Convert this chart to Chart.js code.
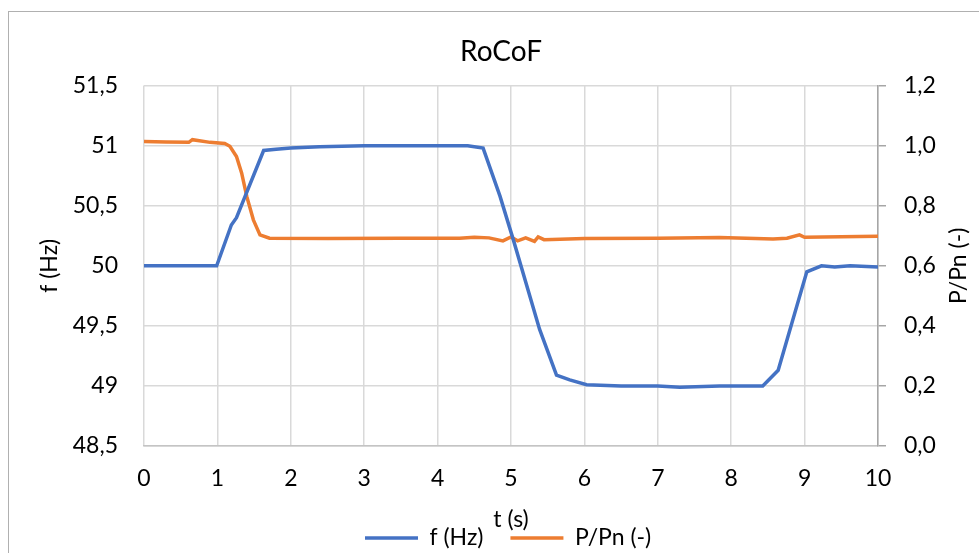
<!DOCTYPE html>
<html>
<head>
<meta charset="utf-8">
<script src="https://cdn.jsdelivr.net/npm/chart.js@4.4.1/dist/chart.umd.min.js"></script>
<style>
  html, body { margin: 0; padding: 0; background: #fff; }
  #wrap { position: relative; width: 979px; height: 553px; overflow: hidden; }
  #frame { position: absolute; left: 8px; top: 11px; width: 1200px; height: 800px;
           border-left: 1px solid #b0b0b0; border-top: 1px solid #b0b0b0; pointer-events: none; }
  canvas { position: absolute; left: 0; top: 0; }
</style>
</head>
<body>
<div id="wrap">
  <canvas id="c" width="979" height="553"></canvas>
  <div id="frame"></div>
</div>
<script>
// ---- data ----
const chartTitle = "RoCoF";
const xTitle = "t (s)";
const leftTitle = "f (Hz)";
const rightTitle = "P/Pn (-)";
const seriesNames = ["f (Hz)", "P/Pn (-)"];

const fTime  = [0, 0.5, 0.99, 1.19, 1.26, 1.63, 1.8, 2.0, 2.39, 3.0, 3.5, 4.0, 4.41, 4.62, 4.85, 5.03, 5.39, 5.62, 5.80, 6.03, 6.5, 7.0, 7.3, 7.84, 8.43, 8.64, 8.82, 9.03, 9.23, 9.41, 9.62, 10.0];
const fValue = [50.0, 50.0, 50.0, 50.34, 50.40, 50.96, 50.97, 50.98, 50.99, 51.0, 51.0, 51.0, 51.0, 50.98, 50.58, 50.22, 49.47, 49.09, 49.05, 49.01, 49.0, 49.0, 48.99, 49.0, 49.0, 49.13, 49.51, 49.95, 50.0, 49.99, 50.0, 49.99];

const pTime  = [0, 0.3, 0.61, 0.66, 0.9, 1.1, 1.17, 1.26, 1.33, 1.40, 1.49, 1.58, 1.71, 2.5, 3.5, 4.3, 4.5, 4.7, 4.89, 5.0, 5.09, 5.2, 5.32, 5.37, 5.45, 6.0, 7.0, 7.84, 8.57, 8.76, 8.93, 9.0, 10.0];
const pValue = [1.014, 1.012, 1.011, 1.02, 1.011, 1.007, 0.998, 0.964, 0.909, 0.831, 0.753, 0.703, 0.692, 0.691, 0.692, 0.692, 0.695, 0.693, 0.683, 0.696, 0.683, 0.693, 0.681, 0.696, 0.687, 0.691, 0.692, 0.694, 0.689, 0.692, 0.703, 0.695, 0.698];

const xTickLabels = ["0","1","2","3","4","5","6","7","8","9","10"];
const leftTickLabels = ["48,5","49","49,5","50","50,5","51","51,5"];
const rightTickLabels = ["0,0","0,2","0,4","0,6","0,8","1,0","1,2"];

// ---- chart ----
const FONT = "Lato";
const txt = "#000000";

const fPoints = fTime.map((t, i) => ({ x: t, y: fValue[i] }));
const pPoints = pTime.map((t, i) => ({ x: t, y: pValue[i] }));

const PLOT_LEFT = 144, PLOT_RIGHT = 878, PLOT_BOTTOM = 446, H = 553, W = 979;
const PAD_LEFT = 23, PAD_RIGHT = 0;

const legendShift = {
  id: 'legendShift',
  afterLayout(chart) {
    const L = chart.legend;
    if (!L) return;
    const pad = L.options.labels.padding;
    const size = L.options.labels.font.size;
    const start = (L.left + pad + L.right - L.lineWidths[0]) / 2;
    const dx = 365 - start;
    const dy = 538 - (L.top + pad + size / 2);
    L.left += dx; L.right += dx; L.top += dy; L.bottom += dy;
  }
};

const rightTitlePlugin = {
  id: 'rightTitle',
  afterDraw(chart) {
    const ctx = chart.ctx;
    ctx.save();
    ctx.font = "23px " + FONT;
    ctx.fillStyle = txt;
    ctx.textAlign = "center";
    ctx.textBaseline = "middle";
    const s = chart.scales.y1;
    ctx.translate(959, (s.top + s.bottom) / 2);
    ctx.rotate(-Math.PI / 2);
    ctx.fillText(rightTitle, 0, 0);
    ctx.restore();
  }
};

new Chart(document.getElementById('c'), {
  type: 'line',
  data: {
    datasets: [
      { label: seriesNames[0], data: fPoints, yAxisID: 'y', borderColor: '#4472C4', backgroundColor: '#4472C4',
        borderWidth: 3.5, pointRadius: 0, tension: 0, order: 1 },
      { label: seriesNames[1], data: pPoints, yAxisID: 'y1', borderColor: '#ED7D31', backgroundColor: '#ED7D31',
        borderWidth: 3.5, pointRadius: 0, tension: 0, order: 2 }
    ]
  },
  options: {
    responsive: false,
    animation: false,
    layout: { padding: { left: PAD_LEFT, right: PAD_RIGHT, top: 0, bottom: 0 } },
    plugins: {
      title: { display: true, text: chartTitle, color: txt, font: { family: FONT, size: 28, weight: 'normal' },
               padding: { top: 35, bottom: 17 } },
      legend: {
        position: 'bottom',
        labels: { color: txt, font: { family: FONT, size: 23 }, usePointStyle: true, pointStyle: 'line',
                  pointStyleWidth: 53, padding: 27 }
      },
      tooltip: { enabled: false }
    },
    scales: {
      x: {
        type: 'linear', min: 0, max: 10,
        ticks: { stepSize: 1, color: txt, font: { family: FONT, size: 23 }, padding: 19,
                 callback: (v, i) => xTickLabels[i] },
        grid: { color: '#d9d9d9', lineWidth: 1.5, drawTicks: false },
        border: { display: true, color: '#c4c4c4', width: 1.5 },
        title: { display: true, text: xTitle, color: txt, font: { family: FONT, size: 23 }, padding: { top: 0, bottom: -40 } },
        afterFit(scale) { scale.height = H - PLOT_BOTTOM - scale.chart.legend.height; }
      },
      y: {
        position: 'left', min: 48.5, max: 51.5,
        ticks: { stepSize: 0.5, color: txt, font: { family: FONT, size: 23 }, padding: 26,
                 callback: (v, i) => leftTickLabels[i] },
        grid: { color: '#d9d9d9', lineWidth: 1.5, drawTicks: false },
        border: { display: false },
        title: { display: true, text: leftTitle, color: txt, font: { family: FONT, size: 23 }, padding: { top: 13, bottom: 0 } },
        afterFit(scale) { scale.width = PLOT_LEFT - PAD_LEFT; }
      },
      y1: {
        position: 'right', min: 0, max: 1.2,
        ticks: { stepSize: 0.2, color: txt, font: { family: FONT, size: 23 }, padding: 18,
                 callback: (v, i) => rightTickLabels[i] },
        grid: { drawOnChartArea: false, drawTicks: true, tickLength: 8, color: '#a6a6a6', lineWidth: 1.5 },
        border: { display: true, color: '#a6a6a6', width: 1.5 },
        title: { display: false },
        afterFit(scale) { scale.width = W - PLOT_RIGHT - PAD_RIGHT; }
      }
    }
  },
  plugins: [legendShift, rightTitlePlugin]
});
</script>
</body>
</html>
